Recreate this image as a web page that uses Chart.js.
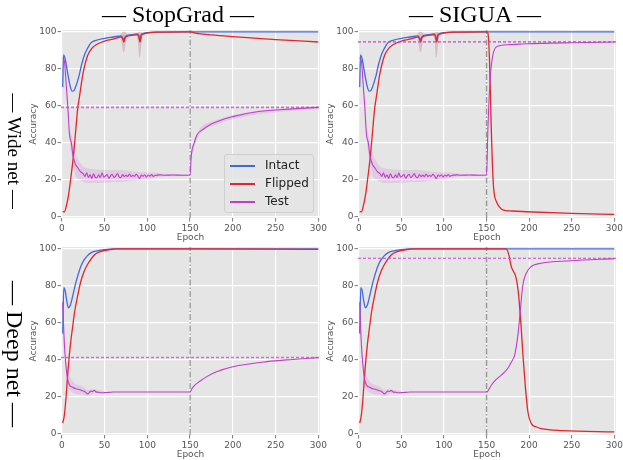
<!DOCTYPE html>
<html>
<head>
<meta charset="utf-8">
<script src="https://cdn.jsdelivr.net/npm/chart.js@4.4.0/dist/chart.umd.min.js"></script>
<style>
  body { margin: 0; background: #fff; }
  #fig { position: relative; width: 623px; height: 460px; overflow: hidden; background: #fff; }
  #fig canvas { position: absolute; }
  .col-title { position: absolute; top: 2px; font-family: "Liberation Serif", "Times New Roman", serif; font-size: 24px; line-height: 24px; white-space: nowrap; transform: translateX(-50%); color: #000; }
  .row-title { position: absolute; font-family: "Liberation Serif", "Times New Roman", serif; white-space: nowrap; transform: translate(-50%, -50%) rotate(90deg); color: #000; }
  .legend { position: absolute; left: 224px; top: 154px; width: 88px; height: 57px; background: rgba(229,229,229,0.85); border: 1px solid #cfcfcf; border-radius: 3px; font-family: "DejaVu Sans", sans-serif; font-size: 12px; color: #222; }
  .legend .row { position: absolute; left: 0; height: 16px; line-height: 16px; }
  .legend .swatch { position: absolute; left: 5px; top: 8px; width: 25px; height: 1.5px; }
  .legend .name { position: absolute; left: 40px; top: 0; }
</style>
</head>
<body>
<div id="fig">
  <canvas id="wideStop" width="340" height="248" style="left:0;top:0"></canvas>
  <canvas id="wideSigua" width="323" height="248" style="left:300px;top:0"></canvas>
  <canvas id="deepStop" width="340" height="248" style="left:0;top:217px"></canvas>
  <canvas id="deepSigua" width="323" height="248" style="left:300px;top:217px"></canvas>
  <div class="col-title" style="left:178px">— StopGrad —</div>
  <div class="col-title" style="left:475px">— SIGUA —</div>
  <div class="row-title" style="left:14px;top:151px;font-size:19px">— Wide net —</div>
  <div class="row-title" style="left:14px;top:354px;font-size:24px">— Deep net —</div>
  <div class="legend" id="legend"></div>
</div>
<script>
// axes
const xTicks = [0, 50, 100, 150, 200, 250, 300];
const yTicks = [0, 20, 40, 60, 80, 100];
const seriesNames = ['Intact', 'Flipped', 'Test'];
const seriesColors = ['#4169E1', '#E8232B', '#C33BC9'];
const switchEpoch = 150;

// Wide net, epochs 1-150 (same for both methods)
const wideIntactEpochs = [1, 2, 4, 7, 9.5, 12, 14, 16, 20, 23, 26.6, 30, 34, 40, 50, 60, 66, 69, 71, 72.5, 74, 76, 80, 86, 88, 90, 91.5, 93, 95, 100, 110, 150];
const wideIntact = [70, 87.5, 85, 77, 71, 67.8, 68, 70, 76, 82, 87.7, 91, 94, 95.4, 96.5, 97.2, 97.6, 97.8, 97, 95.5, 97.2, 98, 98.4, 98.8, 98.9, 98, 95, 98.6, 99.1, 99.5, 99.9, 100];
const wideFlippedEpochs = [1, 3, 5, 8, 10, 12.9, 15, 18.7, 20, 25, 30, 35, 40, 50, 60, 66, 69, 71, 72.5, 74, 76, 80, 86, 88, 90, 91.5, 93, 95, 100, 110, 150];
const wideFlipped = [2.5, 2.3, 5, 12, 19, 30, 40, 59, 63, 78, 87, 91, 93, 95, 96, 96.8, 97.3, 96.5, 94.5, 96.8, 97.5, 98, 98.3, 98.5, 97.5, 94.5, 98.3, 98.8, 99.4, 99.8, 100];
const wideTestEpochs = [1, 3, 5, 7, 9, 11, 13, 16, 19, 22, 25, 27, 29, 31, 33, 35, 37, 39, 41, 43, 45, 47, 49, 51, 53, 55, 57, 59, 61, 63, 65, 67, 69, 71, 73, 75, 77, 79, 81, 83, 85, 87, 89, 91, 93, 95, 97, 99, 101, 103, 105, 107, 109, 115, 120, 130, 140, 150];
const wideTest = [86, 84, 72, 59, 44, 40, 33, 28, 26, 24, 23, 21.5, 23.5, 21, 22.5, 20.5, 23, 21.2, 20.8, 22.4, 21, 23.5, 21.2, 21.8, 22.6, 20.6, 21.9, 22.7, 21, 21.8, 23.1, 21.3, 20.9, 22.6, 21.5, 22.3, 21.5, 22.9, 21.4, 22.2, 21.6, 22.7, 21.7, 20.4, 22.3, 21.6, 22.5, 21.2, 22.3, 21.7, 22.6, 21.6, 22.1, 22.4, 22.2, 22.3, 22.2, 22.3];
// shaded spread
const wideTestBandEpochs = [9, 12, 16, 20, 25, 30, 40, 50, 60, 70, 80, 90, 100, 110, 120, 150];
const wideTestUpper = [48, 43, 34, 30, 27, 26, 25.5, 25, 25, 25, 24.5, 24, 23.8, 23.5, 23, 22.8];
const wideTestLower = [40, 32, 22, 20, 18.5, 18, 18, 18, 18.5, 18.5, 19, 19.5, 20, 21, 21.5, 21.8];
const dip1Epochs = [68, 70, 72, 73.5, 75, 77];
const dip1Upper = [98, 99.5, 100, 100, 99.5, 98.6];
const dip1Lower = [97, 94, 89, 90, 95, 97.8];
const dip2Epochs = [87, 89, 90.5, 92, 93.5, 95];
const dip2Upper = [99, 99.5, 100, 100, 99.5, 99];
const dip2Lower = [98.2, 95, 86, 88, 95, 98.3];

// Wide net after epoch 150
const wideStopFlippedEpochs = [150, 155, 160, 175, 200, 250, 300];
const wideStopFlipped = [100, 99.5, 99, 98.3, 97.4, 95.8, 94.5];
const wideStopTestEpochs = [150, 151, 152, 155, 158, 165, 175, 200, 230, 270, 300];
const wideStopTest = [22.3, 30, 35, 40, 44, 47, 50, 54, 56.8, 58.2, 59];
const wideStopGlowEpochs = [152, 160, 180, 220, 260, 300];
const wideStopGlowUpper = [37, 46.5, 52, 56.5, 58.5, 59.8];
const wideStopGlowLower = [33, 43.5, 49.5, 54.5, 56.8, 58.2];
const wideStopRef = 59;
const wideSiguaFlippedEpochs = [150, 151.5, 153.5, 155.5, 157.5, 159, 161.5, 165, 169, 180, 197, 250, 300];
const wideSiguaFlipped = [100, 99.5, 84, 48, 21, 12, 8, 5, 3.4, 2.8, 2.4, 1.5, 1.0];
const wideSiguaTestEpochs = [150, 151.6, 154.3, 157.5, 163, 175, 197, 250, 300];
const wideSiguaTest = [22.3, 48, 75, 87.7, 92.2, 93, 93.5, 94.1, 94.5];
const wideSiguaRef = 94.6;

// Deep net, epochs 1-150
const deepIntactEpochs = [1, 2.3, 4, 6, 7.8, 10, 13, 16, 19, 22.6, 26, 30, 34, 40, 50, 60, 150];
const deepIntact = [54, 79, 77, 71, 68, 69.5, 75, 81, 86, 91, 94, 96.3, 97.8, 98.8, 99.6, 100, 100];
const deepFlippedEpochs = [1, 3, 5, 7, 10, 12.9, 15, 18.7, 22, 26, 30, 38, 45, 55, 65, 150];
const deepFlipped = [5.4, 10, 20, 33, 48, 58.7, 66, 75, 82, 87.7, 91.5, 96.7, 98.5, 99.5, 100, 100];
const deepTestEpochs = [1, 3, 6, 9, 12, 15, 18, 21, 24, 27, 30, 32, 34, 36, 38, 40, 43, 46, 50, 55, 60, 80, 100, 120, 150];
const deepTest = [71, 48, 31.5, 26, 25, 24.3, 24, 23.5, 23, 22.5, 21.3, 22, 22.8, 22.6, 23.2, 22.4, 22.2, 21.9, 22, 22.1, 22.3, 22.3, 22.3, 22.3, 22.3];
const deepTestBandEpochs = [5, 10, 15, 20, 25, 30, 35, 40, 50];
const deepTestUpper = [38, 30, 27, 26, 25, 23.5, 24, 23.5, 22.8];
const deepTestLower = [26, 23, 21.5, 21, 21, 20, 21, 21.5, 21.5];

// Deep net after epoch 150
const deepStopFlippedEpochs = [150, 300];
const deepStopFlipped = [100, 99.7];
const deepStopTestEpochs = [150, 152, 155, 161, 170, 181, 200, 240, 270, 300];
const deepStopTest = [22.3, 24, 25.8, 28, 30.8, 33.3, 36, 38.8, 40, 41];
const deepStopRef = 41;
const deepSiguaFlippedEpochs = [150, 173, 176, 179, 184.8, 187.6, 190.7, 192.7, 195.4, 198.5, 202.4, 208, 214, 240, 300];
const deepSiguaFlipped = [100, 100, 97, 90.4, 84, 75, 57, 42.4, 26, 11.6, 5.3, 3.5, 2.5, 1.4, 0.7];
const deepSiguaTestEpochs = [150, 155.5, 161, 167.3, 175, 179, 183, 186.8, 189.5, 192.6, 196.6, 202.4, 214, 249, 300];
const deepSiguaTest = [22.3, 26, 29, 31.5, 35.2, 38.5, 42.4, 53.3, 65.9, 80.4, 86.8, 90.4, 92.2, 93.5, 94.7];
const deepSiguaRef = 94.9;

const intactLateEpochs = [150, 300];
const intactLate = [100, 100];

const X_MIN = -1, X_MAX = 302, Y_MIN = -1, Y_MAX = 101;
const FONT = 'DejaVu Sans';
const TICK_GRAY = '#555';

function pts(xs, ys) {
    return xs.map((x, i) => ({ x: x, y: ys[i] }));
}

function join(xsA, ysA, xsB, ysB) {
    // drop the duplicated epoch 150 of the second part
    return pts(xsA, ysA).concat(pts(xsB, ysB).slice(1));
}

function line(label, data, color, width, order) {
    return {
        label: label, data: data, borderColor: color, borderWidth: width,
        pointRadius: 0, fill: false, cubicInterpolationMode: 'monotone', order: order
    };
}

function band(xs, upper, lower, color) {
    return [
        { data: pts(xs, upper), borderWidth: 0, pointRadius: 0, backgroundColor: color, fill: '+1', cubicInterpolationMode: 'monotone', order: 10 },
        { data: pts(xs, lower), borderWidth: 0, pointRadius: 0, fill: false, cubicInterpolationMode: 'monotone', order: 10 }
    ];
}

const plotBackground = {
    id: 'plotBackground',
    beforeDraw(chart) {
        const { ctx, chartArea: a } = chart;
        ctx.save();
        ctx.fillStyle = '#E5E5E5';
        ctx.fillRect(a.left, a.top, a.right - a.left, a.bottom - a.top);
        ctx.restore();
    }
};

function makePanel(id, p) {
    const datasets = [
        line('Test', p.test, seriesColors[2], 1.1, 1),
        line('Flipped', p.flipped, seriesColors[1], 1.3, 2),
        line('Intact', p.intact, seriesColors[0], 1.3, 3),
        { label: 'ref', data: [{ x: X_MIN, y: p.ref }, { x: X_MAX, y: p.ref }], borderColor: p.refColor, backgroundColor: p.refColor,
          borderWidth: p.refWidth, borderDash: [3, 2], pointRadius: 0, fill: false, tension: 0, order: 1 },
        { label: 'switch', data: [{ x: switchEpoch, y: Y_MIN }, { x: switchEpoch, y: Y_MAX }], borderColor: p.vColor, backgroundColor: p.vColor,
          borderWidth: p.vWidth, borderDash: [6, 2, 1.5, 2], pointRadius: 0, fill: false, tension: 0, order: 4 }
    ].concat(p.bands);

    new Chart(document.getElementById(id), {
        type: 'line',
        data: { datasets: datasets },
        options: {
            responsive: false,
            animation: false,
            layout: { padding: { left: 0, right: p.padRight, top: 30, bottom: 0 } },
            plugins: { legend: { display: false }, tooltip: { enabled: false } },
            scales: {
                x: {
                    type: 'linear', min: X_MIN, max: X_MAX,
                    afterBuildTicks: s => { s.ticks = xTicks.map(v => ({ value: v })); },
                    afterFit: s => { s.height = 30; s.paddingLeft = 0; s.paddingRight = 0; },
                    grid: { color: '#fff', lineWidth: 1.2, tickColor: TICK_GRAY, tickLength: 3.5, tickWidth: 0.8 },
                    border: { display: false },
                    ticks: { font: { family: FONT, size: 9 }, color: TICK_GRAY, padding: 1.5, maxRotation: 0, autoSkip: false },
                    title: { display: true, text: 'Epoch', font: { family: FONT, size: 9 }, color: TICK_GRAY, padding: { top: 0, bottom: 5 } }
                },
                y: {
                    min: Y_MIN, max: Y_MAX,
                    afterBuildTicks: s => { s.ticks = yTicks.map(v => ({ value: v })); },
                    afterFit: s => { s.width = p.yWidth; s.paddingTop = 0; s.paddingBottom = 0; },
                    grid: { color: '#fff', lineWidth: 1.2, tickColor: TICK_GRAY, tickLength: 3.5, tickWidth: 0.8 },
                    border: { display: false },
                    ticks: { font: { family: FONT, size: 9 }, color: TICK_GRAY, padding: 1 },
                    title: { display: true, text: 'Accuracy', font: { family: FONT, size: 9 }, color: TICK_GRAY, padding: { top: p.yTitlePad, bottom: 0 } }
                }
            }
        },
        plugins: [plotBackground]
    });
}

const bandPink = 'rgba(191, 40, 191, 0.13)';
const bandDip = 'rgba(150, 60, 80, 0.22)';
const refSoft = 'rgba(205, 70, 205, 0.75)';
const wideBands = [].concat(
    band(wideTestBandEpochs, wideTestUpper, wideTestLower, bandPink),
    band(dip1Epochs, dip1Upper, dip1Lower, bandDip),
    band(dip2Epochs, dip2Upper, dip2Lower, bandDip)
);
const deepBands = band(deepTestBandEpochs, deepTestUpper, deepTestLower, bandPink);

const leftCol = { padRight: 20, yWidth: 61, yTitlePad: 28.6 };
const rightCol = { padRight: 7, yWidth: 58, yTitlePad: 25.6 };

makePanel('wideStop', Object.assign({}, leftCol, {
    intact: join(wideIntactEpochs, wideIntact, intactLateEpochs, intactLate),
    flipped: join(wideFlippedEpochs, wideFlipped, wideStopFlippedEpochs, wideStopFlipped),
    test: join(wideTestEpochs, wideTest, wideStopTestEpochs, wideStopTest),
    ref: wideStopRef, refColor: refSoft, refWidth: 1.6,
    vColor: '#555', vWidth: 0.8,
    bands: wideBands.concat(band(wideStopGlowEpochs, wideStopGlowUpper, wideStopGlowLower, bandPink))
}));
makePanel('wideSigua', Object.assign({}, rightCol, {
    intact: join(wideIntactEpochs, wideIntact, intactLateEpochs, intactLate),
    flipped: join(wideFlippedEpochs, wideFlipped, wideSiguaFlippedEpochs, wideSiguaFlipped),
    test: join(wideTestEpochs, wideTest, wideSiguaTestEpochs, wideSiguaTest),
    ref: wideSiguaRef, refColor: refSoft, refWidth: 1.8,
    vColor: '#9a9a9a', vWidth: 1.5, bands: wideBands
}));
makePanel('deepStop', Object.assign({}, leftCol, {
    intact: join(deepIntactEpochs, deepIntact, intactLateEpochs, intactLate),
    flipped: join(deepFlippedEpochs, deepFlipped, deepStopFlippedEpochs, deepStopFlipped),
    test: join(deepTestEpochs, deepTest, deepStopTestEpochs, deepStopTest),
    ref: deepStopRef, refColor: refSoft, refWidth: 1.5,
    vColor: '#555', vWidth: 0.8, bands: deepBands
}));
makePanel('deepSigua', Object.assign({}, rightCol, {
    intact: join(deepIntactEpochs, deepIntact, intactLateEpochs, intactLate),
    flipped: join(deepFlippedEpochs, deepFlipped, deepSiguaFlippedEpochs, deepSiguaFlipped),
    test: join(deepTestEpochs, deepTest, deepSiguaTestEpochs, deepSiguaTest),
    ref: deepSiguaRef, refColor: '#D040D0', refWidth: 1.1,
    vColor: '#9a9a9a', vWidth: 1.5, bands: deepBands
}));

// legend (top-left panel only)
const legend = document.getElementById('legend');
seriesNames.forEach((name, i) => {
    const row = document.createElement('div');
    row.className = 'row';
    row.style.top = (2 + i * 18) + 'px';
    row.style.width = '88px';
    row.innerHTML = '<div class="swatch" style="background:' + seriesColors[i] + '"></div><div class="name">' + name + '</div>';
    legend.appendChild(row);
});
</script>
</body>
</html>
